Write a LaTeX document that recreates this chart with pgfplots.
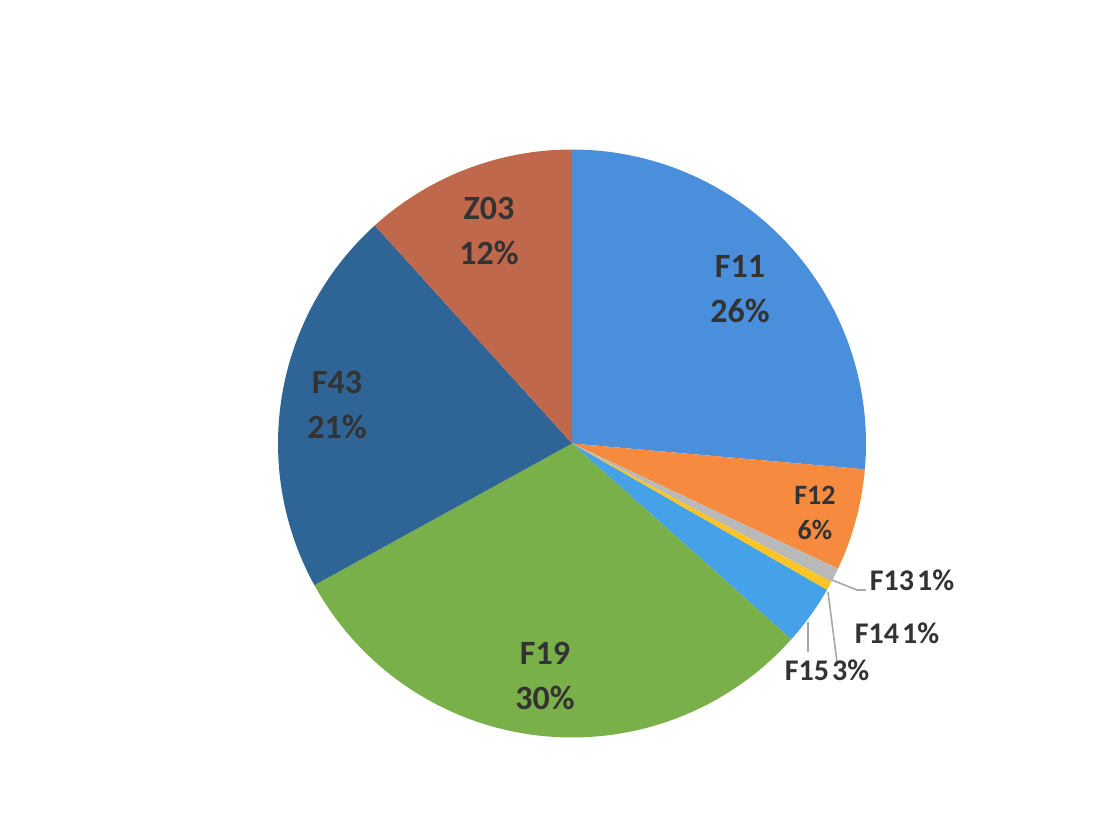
\documentclass[border=0pt]{standalone}
\usepackage{pgfplots}
\pgfplotsset{compat=1.18}
\usepackage{fontspec}
\setmainfont{Carlito}
\definecolor{cF11}{HTML}{4A8FDB}
\definecolor{cF12}{HTML}{F68B40}
\definecolor{cF13}{HTML}{B9B9B9}
\definecolor{cF14}{HTML}{FFC426}
\definecolor{cF15}{HTML}{45A1E8}
\definecolor{cF19}{HTML}{7AB04A}
\definecolor{cF43}{HTML}{2F6596}
\definecolor{cZ03}{HTML}{BF684B}
\definecolor{txt}{HTML}{333333}
\definecolor{lead}{HTML}{A8A8A8}
% #1 = cumulative share before the slice (%), #2 = share (%), #3 = colour
\newcommand{\slice}[3]{%
  \addplot[fill=#3, draw=none, domain={90-3.6*(#1+#2)}:{90-3.6*(#1)}, samples=60, variable=\t]
    ({572+294*cos(\t)}, {376.5+294*sin(\t)}) -- (axis cs:572,376.5) -- cycle;
}
\begin{document}
\begin{tikzpicture}
\begin{axis}[
  x=0.5pt, y=0.5pt,
  xmin=0, xmax=1109, ymin=0, ymax=820,
  axis line style={draw=none}, ticks=none,
  axis background/.style={fill=white},
  clip=false,
]
% shares (%): F11 26.4, F12 5.6, F13 0.8, F14 0.5, F15 3.3, F19 30.4, F43 21.3, Z03 11.7
\slice{0}{26.4}{cF11}
\slice{26.4}{5.6}{cF12}
\slice{32.0}{0.8}{cF13}
\slice{32.8}{0.5}{cF14}
\slice{33.3}{3.3}{cF15}
\slice{36.6}{30.4}{cF19}
\slice{67.0}{21.3}{cF43}
\slice{88.3}{11.7}{cZ03}
% leader lines
\draw[lead, line width=0.8pt] (axis cs:832,240) -- (axis cs:857,230) -- (axis cs:866,230);
\draw[lead, line width=0.8pt] (axis cs:828,228) -- (axis cs:837,158);
\draw[lead, line width=0.8pt] (axis cs:808,198) -- (axis cs:808,168);
% labels
\begin{scope}[every node/.style={text=txt, font=\bfseries\fontsize{17}{22.5}\selectfont, align=center, inner sep=0pt}]
\node at (axis cs:740,531) {F11\\26\%};
\node at (axis cs:489,589) {Z03\\12\%};
\node at (axis cs:337,415) {F43\\21\%};
\node at (axis cs:545,144.5) {F19\\30\%};
\end{scope}
\begin{scope}[every node/.style={text=txt, font=\bfseries\fontsize{14}{17.5}\selectfont, align=center, inner sep=0pt}]
\node at (axis cs:815,307.5) {F12\\6\%};
\end{scope}
\begin{scope}[every node/.style={text=txt, font=\bfseries\fontsize{15}{17.5}\selectfont, align=center, inner sep=0pt}]
\node at (axis cs:912,240) {F13\hspace{0.1em}1\%};
\node at (axis cs:897,187) {F14\hspace{0.1em}1\%};
\node at (axis cs:827,150) {F15\hspace{0.1em}3\%};
\end{scope}
\end{axis}
\end{tikzpicture}
\end{document}
